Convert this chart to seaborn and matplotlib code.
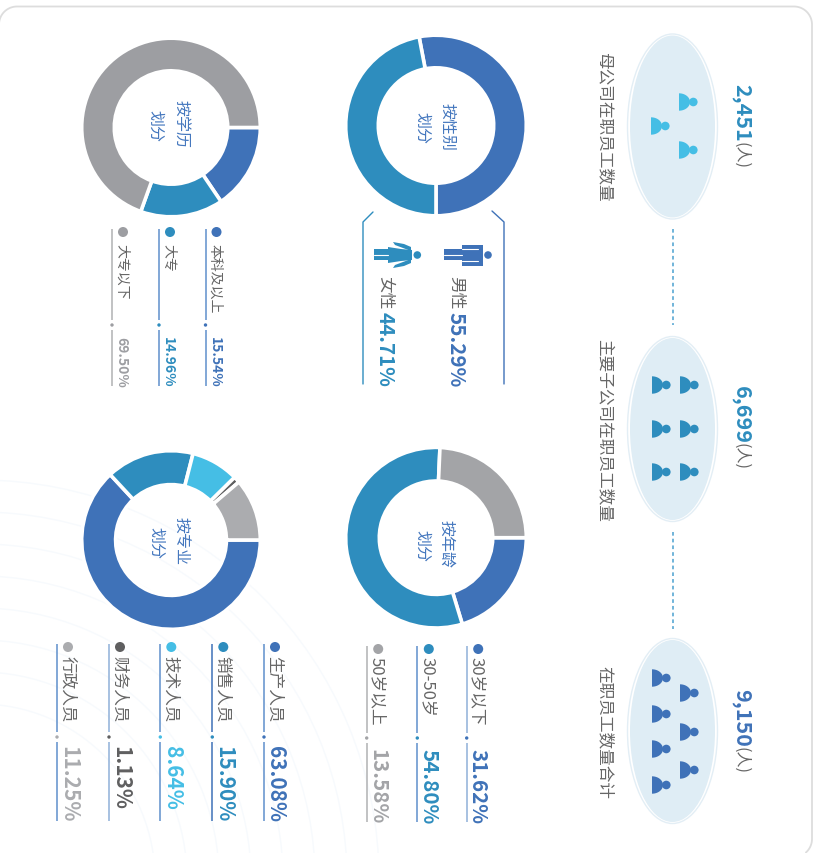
import numpy as np
import seaborn as sns
import matplotlib.pyplot as plt
import pandas as pd
from matplotlib.patches import Arc, Circle, Ellipse, Polygon, Rectangle

sns.set_theme(style="white")
plt.rcParams["font.family"] = ["Noto Sans CJK SC", "DejaVu Sans"]

W, H = 819, 854
BLUE = "#3F72B8"
TEAL = "#2E8DBE"
CYAN = "#45BEE5"
DARK = "#5F5F60"
GRAY = "#A3A4A7"
TEXT = "#666666"
LINE = "#5F8FCB"
PALE = "#8FB0D8"
LINE_GRAY = "#B0B1B3"

# headcount strip
head_labels = ["母公司在职员工数量", "主要子公司在职员工数量", "在职员工数量合计"]
head_values = ["2,451", "6,699", "9,150"]
head_colors = [TEAL, TEAL, BLUE]

# donut wedge shares, read from the drawn arcs
gender_shares = [53.0, 47.0]
age_shares = [20.3, 55.4, 24.3]
major_shares = [63.08, 15.90, 8.64, 1.13, 11.25]
edu_shares = [15.54, 14.96, 69.50]

gender_colors = [BLUE, TEAL]
age_colors = [BLUE, TEAL, GRAY]
major_colors = [BLUE, TEAL, CYAN, DARK, "#ABACAF"]
edu_colors = [BLUE, TEAL, "#9D9EA2"]

# legend text
age_labels = ["30岁以下", "30-50岁", "50岁以上"]
age_values = ["31.62%", "54.80%", "13.58%"]
major_labels = ["生产人员", "销售人员", "技术人员", "财务人员", "行政人员"]
major_values = ["63.08%", "15.90%", "8.64%", "1.13%", "11.25%"]
edu_labels = ["本科及以上", "大专", "大专以下"]
edu_values = ["15.54%", "14.96%", "69.50%"]

fig = plt.figure(figsize=(W / 100, H / 100), dpi=100, facecolor="white")
ax = fig.add_axes([0, 0, 1, 1])
ax.set_xlim(0, W)
ax.set_ylim(H, 0)
ax.axis("off")


def vtext(x, y, s, size=12, color=TEXT, weight="normal"):
    # everything in the picture is turned a quarter clockwise
    ax.text(x - 2.2, y, s, rotation=-90, rotation_mode="anchor", ha="left", va="center",
            fontsize=size, color=color, fontweight=weight)


def person(x, y, color):
    t = np.linspace(-np.pi / 2, np.pi / 2, 30)
    pts = np.column_stack([x + 11 * np.cos(t), y + 8.7 * np.sin(t)])
    ax.add_patch(Polygon(pts, facecolor=color, edgecolor="none"))
    ax.add_patch(Circle((x + 14.3, y), 4.3, facecolor=color, edgecolor="none"))


def donut(cx, cy, r, inner, shares, colors, start=0, clockwise=True, lw=2.6):
    # the white wedge edge eats about 1.3 px on both rims
    r = r + 1.3
    inner = inner - 1.3
    pad = 1.03
    a = fig.add_axes([(cx - r * pad) / W, 1 - (cy + r * pad) / H, 2 * r * pad / W, 2 * r * pad / H])
    a.pie(shares, colors=colors, startangle=start, counterclock=not clockwise, radius=1,
          wedgeprops={"width": 1 - inner / r, "edgecolor": "white", "linewidth": lw})
    a.set_xlim(-pad, pad)
    a.set_ylim(-pad, pad)
    a.patch.set_alpha(0)


def legend(rows_x, y_top, y_tick, y_stop, y_label, y_value, dot_dx, label_dx, value_dx, labels, values,
           colors, line_colors, label_size, value_size):
    rows = pd.DataFrame({"x": rows_x, "name": labels})
    rows["dot_x"] = rows["x"] + dot_dx
    rows["dot_y"] = y_top + 3
    rows["tick_y"] = y_tick
    palette = dict(zip(labels, colors))
    sns.scatterplot(data=rows, x="dot_x", y="dot_y", hue="name", palette=palette, s=52,
                    linewidth=0, legend=False, ax=ax, zorder=3)
    sns.scatterplot(data=rows, x="x", y="tick_y", hue="name", palette=palette, s=6,
                    linewidth=0, legend=False, ax=ax, zorder=3)
    for x, lab, val, c, lc in zip(rows_x, labels, values, colors, line_colors):
        ax.plot([x, x], [y_top, y_tick - 5], color=lc, lw=1.1, solid_capstyle="butt")
        ax.plot([x, x], [y_tick + 5, y_stop], color=lc, lw=1.1, solid_capstyle="butt")
        vtext(x + label_dx, y_label, lab, size=label_size)
        vtext(x + value_dx, y_value, val, size=value_size, color=c, weight="bold")


# faint background rings
for r in range(175, 430, 32):
    ax.add_patch(Arc((-20, 880), 2 * r, 2 * r, color="#F7FAFD", lw=1, zorder=0))

# card outline, only top and right show, a patch here drew odd curves off canvas
t1 = np.linspace(np.pi, np.pi * 1.5, 20)
t2 = np.linspace(np.pi * 1.5, np.pi * 2, 20)
t3 = np.linspace(0, np.pi * 0.27, 12)
card_x = np.r_[17 + 18 * np.cos(t1), 794 + 18 * np.cos(t2), 794 + 18 * np.cos(t3)]
card_y = np.r_[25.5 + 18 * np.sin(t1), 25.5 + 18 * np.sin(t2), 840 + 18 * np.sin(t3)]
ax.plot(card_x, card_y, color="#DDDDDD", lw=1.3, zorder=1)

# headcount ellipses
centers_y = [127.5, 430, 732]
icon_colors = [CYAN, TEAL, BLUE]
icon_spots = [
    [(679, 103), (651, 127), (679, 151)],
    [(680, 386), (680, 430), (680, 473), (652, 386), (652, 430), (652, 473)],
    [(680, 694), (680, 733), (680, 771), (652, 679), (652, 715), (652, 750), (652, 786)],
]
label_starts = [52, 339, 666]
value_starts = [84, 386, 689]
unit_starts = [142, 443, 747]
for cy, ic, spots, lab, val, vc, ls, vs, us in zip(centers_y, icon_colors, icon_spots, head_labels,
                                                   head_values, head_colors, label_starts,
                                                   value_starts, unit_starts):
    ax.add_patch(Ellipse((672.5, cy), 90, 185, facecolor="white", edgecolor="#E3EEF5", lw=1))
    ax.add_patch(Ellipse((672.5, cy), 85, 182, facecolor="#DFEDF5", edgecolor="none"))
    for x, y in spots:
        person(x, y, ic)
    vtext(606.5, ls, lab, size=12)
    vtext(743.5, vs, val, size=15.5, color=vc, weight="bold")
    vtext(743.5, us, "(人)", size=11.5)

for y0, y1 in [(230, 326), (533, 630)]:
    ax.plot([672.5, 672.5], [y0, y1], color="#4AA0CF", lw=1.1, dashes=(2.4, 2))

# donuts
donut(436, 126.5, 89, 59, gender_shares, gender_colors, start=-90, clockwise=False)
donut(436, 538.7, 89, 58, age_shares, age_colors)
donut(171, 541, 88, 56.7, major_shares, major_colors)
donut(171, 128.5, 88, 58, edu_shares, edu_colors)

# donut captions
for x1, x2, y1, y2, first in [(449, 424, 103, 112, "按性别"), (449, 424, 520, 530, "按年龄"),
                              (183, 158, 517, 527, "按专业"), (182, 157, 100, 110, "按学历")]:
    vtext(x1, y1, first, size=11.5, color="#4477BE")
    vtext(x2, y2, "划分", size=11.5, color="#4477BE")

# gender brackets and figures
ax.plot([373, 363, 363], [213, 223, 385], color=TEAL, lw=1)
ax.plot([492, 504, 504], [212, 223, 385], color=BLUE, lw=1)

ax.add_patch(Circle((488, 256), 3.8, facecolor=BLUE, edgecolor="none"))
ax.add_patch(Rectangle((462, 246), 21, 20.5, facecolor=BLUE, edgecolor="none"))
ax.add_patch(Rectangle((444, 250), 20, 11, facecolor=BLUE, edgecolor="none"))
ax.plot([444, 462], [255.7, 255.7], color="white", lw=0.8)
ax.plot([462, 478], [250, 250], color="white", lw=0.8)
ax.plot([462, 478], [261.7, 261.7], color="white", lw=0.8)

ax.add_patch(Circle((417.3, 256), 3.8, facecolor=TEAL, edgecolor="none"))
ax.add_patch(Polygon([(388, 248), (401, 250), (412, 251), (412, 261), (401, 262), (388, 264)],
                     facecolor=TEAL, edgecolor="none"))
ax.add_patch(Polygon([(393, 243), (395, 246), (411, 252), (411, 248), (404, 245)],
                     facecolor=TEAL, edgecolor="none"))
ax.add_patch(Polygon([(393, 269), (395, 266), (411, 260), (411, 264), (404, 267)],
                     facecolor=TEAL, edgecolor="none"))
ax.add_patch(Rectangle((374, 250), 15, 11, facecolor=TEAL, edgecolor="none"))
ax.plot([374, 388], [255.7, 255.7], color="white", lw=0.8)

vtext(458, 276, "男性", size=12)
vtext(458, 312, "55.29%", size=14.8, color=BLUE, weight="bold")
vtext(387, 276, "女性", size=12)
vtext(387, 312, "44.71%", size=14.8, color=TEAL, weight="bold")

# legends
legend([466.7, 417.3, 366.7], 647, 739, 823, 657, 749, 11.5, 12.5, 13.5, age_labels, age_values,
       age_colors, [PALE, LINE, LINE_GRAY], 12, 14.8)
legend([264, 212.3, 160.3, 109, 57], 645, 738, 822, 656, 746.5, 11, 12.5, 14, major_labels, major_values,
       major_colors, [LINE, BLUE, LINE, PALE, LINE], 12, 15)
legend([205.5, 159, 112], 230, 326, 387, 244, 337, 11, 11.5, 11.5, edu_labels, edu_values,
       edu_colors, [LINE, LINE, LINE_GRAY], 10, 10)

ax.set_xlim(0, W)
ax.set_ylim(H, 0)
ax.axis("off")

fig.savefig("out.png", dpi=100, facecolor="white")
